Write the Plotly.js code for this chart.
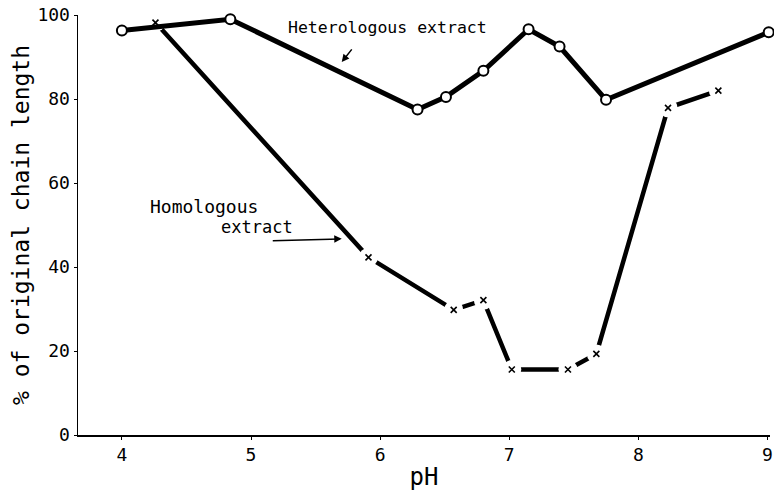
<!DOCTYPE html>
<html>
<head>
<meta charset="utf-8">
<script src="https://cdn.plot.ly/plotly-3.0.1.min.js"></script>
<style>html,body{margin:0;padding:0;background:#fff;}#chart{width:774px;height:497px;}</style>
</head>
<body>
<div id="chart"></div>
<script>
// Heterologous extract (open circles)
var hetPH = [4.0, 4.84, 6.29, 6.51, 6.80, 7.15, 7.39, 7.75, 9.01];
var hetLen = [96.3, 99.0, 77.5, 80.5, 86.7, 96.6, 92.5, 79.8, 95.9];
// Homologous extract (crosses)
var homPH = [4.26, 5.91, 6.57, 6.80, 7.02, 7.455, 7.675, 8.23, 8.62];
var homLen = [98.2, 42.3, 29.8, 32.1, 15.6, 15.6, 19.3, 77.9, 82.0];
var xTicks = [4, 5, 6, 7, 8, 9];
var yTicks = [0, 20, 40, 60, 80, 100];

var MONO = 'DejaVu Sans Mono, Liberation Mono, monospace';

var traces = [
  {x: homPH, y: homLen, mode: 'lines', line: {color: '#000', width: 4.5}, hoverinfo: 'skip', cliponaxis: false},
  {x: homPH, y: homLen, mode: 'markers', marker: {symbol: 'circle', size: 19, color: '#fff', line: {width: 0}}, hoverinfo: 'skip', cliponaxis: false},
  {x: homPH, y: homLen, mode: 'markers', marker: {symbol: 'x-thin', size: 6, color: '#000', line: {color: '#000', width: 1.6}}, cliponaxis: false},
  {x: hetPH, y: hetLen, mode: 'lines+markers', line: {color: '#000', width: 5},
   marker: {symbol: 'circle', size: 10, color: '#fff', line: {color: '#000', width: 2}}, cliponaxis: false}
];

var layout = {
  width: 774, height: 497,
  margin: {l: 78, r: 4, t: 15, b: 62},
  paper_bgcolor: '#fff', plot_bgcolor: '#fff',
  showlegend: false,
  font: {family: MONO, color: '#000'},
  xaxis: {
    range: [3.66, 9.02], tickvals: xTicks, ticktext: xTicks.map(String),
    showgrid: false, zeroline: false, showline: true, linecolor: '#000', linewidth: 1.5,
    ticks: 'outside', ticklen: 3, tickcolor: '#000',
    tickfont: {size: 18, family: MONO, color: '#000'},
    title: {text: 'pH', font: {size: 24, family: MONO, color: '#000'}, standoff: 4}
  },
  yaxis: {
    range: [0, 100], tickvals: yTicks, ticktext: ['0', '20', '40', '60', '80', '100'],
    showgrid: false, zeroline: false, showline: true, linecolor: '#000', linewidth: 1.5,
    ticks: 'outside', ticklen: 3, tickcolor: '#000',
    tickfont: {size: 18, family: MONO, color: '#000'},
    title: {text: '% of original chain length', font: {size: 23, family: MONO, color: '#000'}, standoff: 1}
  },
  annotations: [
    {x: 6.06, y: 97.1, xref: 'x', yref: 'y', text: 'Heterologous extract', showarrow: false,
     font: {size: 16.5, family: MONO, color: '#000'}},
    {x: 5.703, y: 88.8, xref: 'x', yref: 'y', text: ' ', showarrow: true, ax: 15, ay: -19,
     arrowhead: 2, arrowsize: 1, arrowwidth: 1.5, arrowcolor: '#000'},
    {x: 4.635, y: 54.3, xref: 'x', yref: 'y', text: 'Homologous', showarrow: false,
     font: {size: 18, family: MONO, color: '#000'}},
    {x: 5.045, y: 49.5, xref: 'x', yref: 'y', text: 'extract', showarrow: false,
     font: {size: 17, family: MONO, color: '#000'}},
    {x: 5.703, y: 46.7, xref: 'x', yref: 'y', text: ' ', showarrow: true, ax: -74, ay: 2,
     arrowhead: 2, arrowsize: 1, arrowwidth: 1.5, arrowcolor: '#000'}
  ]
};

Plotly.newPlot('chart', traces, layout, {displayModeBar: false, staticPlot: true});
</script>
</body>
</html>
